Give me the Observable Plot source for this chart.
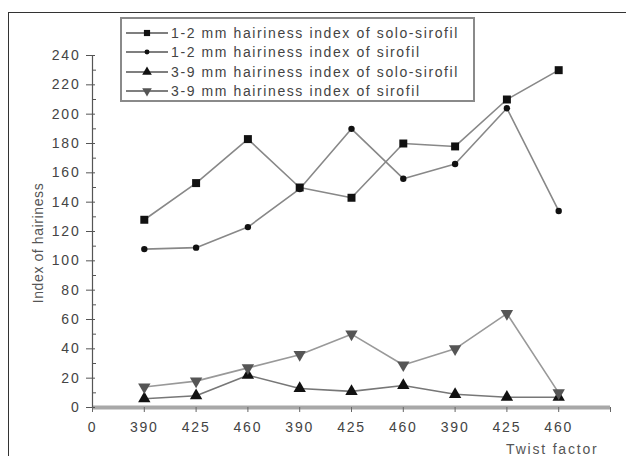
<!DOCTYPE html>
<html><head><meta charset="utf-8">
<script src="https://cdn.jsdelivr.net/npm/d3@7"></script>
<script src="https://cdn.jsdelivr.net/npm/@observablehq/plot@0.6"></script>
<style>
body{margin:0;background:#fff;}
#wrap{position:relative;width:626px;height:456px;overflow:hidden;background:#fff;font-family:"Liberation Sans",Arial,sans-serif;}
#frame{position:absolute;left:8px;top:12px;width:700px;height:500px;border:1.5px solid #333;box-sizing:border-box;}
#chart{position:absolute;left:0;top:0;}
#legend{position:absolute;left:120px;top:17px;width:355px;height:85px;border:2px solid #8a8a8a;box-sizing:border-box;background:#fff;padding-top:4px;}
.row{height:19.5px;display:flex;align-items:center;font-size:14px;letter-spacing:1.6px;color:#444;white-space:nowrap;}
.row svg{margin-left:4px;margin-right:3px;}
#ylabel{position:absolute;left:38px;top:243px;transform:translate(-50%,-50%) rotate(-90deg);font-size:14px;letter-spacing:0.6px;color:#555;white-space:nowrap;}
</style></head>
<body><div id="wrap"><div id="frame"></div><div id="chart"></div><div id="legend"></div><div id="ylabel">Index of hairiness</div></div>
<script>
const tickLabels = ["0","390","425","460","390","425","460","390","425","460",""];
const positions = [1,2,3,4,5,6,7,8,9];
const seriesNames = [
  "1-2 mm hairiness index of solo-sirofil",
  "1-2 mm hairiness index of sirofil",
  "3-9 mm hairiness index of solo-sirofil",
  "3-9 mm hairiness index of sirofil"
];
const hair12Solo = [128,153,183,150,143,180,178,210,230];
const hair12Siro = [108,109,123,149,190,156,166,204,134];
const hair39Solo = [6,8,22,13,11,15,9,7,7];
const hair39Siro = [14,18,27,36,50,29,40,64,10];

const styles = [
  {values:hair12Solo, symbol:"square", r:4.5, fill:"#111", rotate:0, line:"#888"},
  {values:hair12Siro, symbol:"circle", r:3.2, fill:"#111", rotate:0, line:"#888"},
  {values:hair39Solo, symbol:"triangle", r:4.6, fill:"#111", rotate:0, line:"#777"},
  {values:hair39Siro, symbol:"triangle", r:4.6, fill:"#555", rotate:180, line:"#999"}
];
const data = styles.map((s,k)=>s.values.map((v,i)=>({x:positions[i], y:v, series:seriesNames[k]})));

const marks = [];
marks.push(Plot.ruleY([0], {stroke:"#a8a8a8", strokeWidth:4}));
marks.push(Plot.axisY({ticks:d3.range(0,241,20), tickSize:6, tickPadding:6, fontSize:14, fill:"#444", stroke:"#555", label:null}));
marks.push(Plot.axisY({ticks:d3.range(10,240,20), tickSize:-4, stroke:"#555", text:null, label:null}));
marks.push(Plot.axisY({ticks:d3.range(0,241,20), tickSize:-3, stroke:"#555", text:null, label:null}));
marks.push(Plot.ruleX([0], {y1:0, y2:240, stroke:"#555", strokeWidth:1.2}));
marks.push(Plot.axisX({ticks:d3.range(0,11), tickFormat:i=>tickLabels[i], tickSize:5, tickPadding:10, fontSize:14, fill:"#444", stroke:"#666", label:null}));
styles.forEach((s,k)=>{
  marks.push(Plot.line(data[k], {x:"x", y:"y", stroke:s.line, strokeWidth:1.6}));
});
styles.forEach((s,k)=>{
  marks.push(Plot.dot(data[k], {x:"x", y:"y", symbol:s.symbol, r:s.r, fill:s.fill, stroke:"none", rotate:s.rotate}));
});
marks.push(Plot.text(["Twist factor"], {frameAnchor:"bottom-right", textAnchor:"end", dx:-12, dy:46, fontSize:14, fill:"#555"}));

const chart = Plot.plot({
  width:626, height:456,
  marginLeft:92, marginRight:16, marginTop:55, marginBottom:49,
  style:{background:"transparent", fontFamily:"Liberation Sans, Arial, sans-serif", letterSpacing:"1.8px"},
  x:{domain:[0,10], axis:null},
  y:{domain:[0,240], axis:null},
  marks
});
document.getElementById("chart").appendChild(chart);

// legend
const leg = d3.select("#legend");
styles.forEach((s,k)=>{
  const row = leg.append("div").attr("class","row");
  const svg = row.append("svg").attr("width",42).attr("height",14);
  svg.append("line").attr("x1",0).attr("x2",42).attr("y1",7).attr("y2",7).attr("stroke","#555").attr("stroke-width",1.5);
  const type = s.symbol==="square"?d3.symbolSquare:s.symbol==="circle"?d3.symbolCircle:d3.symbolTriangle;
  const size = Math.PI*s.r*s.r*0.6;
  svg.append("path").attr("d", d3.symbol(type, size)()).attr("transform",`translate(21,7) rotate(${s.rotate})`).attr("fill",s.fill);
  row.append("span").text(seriesNames[k]);
});
</script></body></html>
